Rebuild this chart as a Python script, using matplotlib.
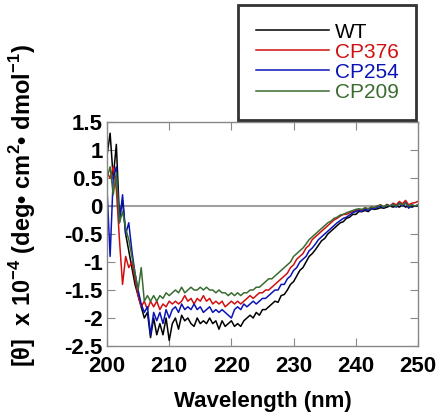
import matplotlib
matplotlib.use("Agg")
import matplotlib.pyplot as plt
import numpy as np

plt.rcParams['font.family'] = ['Liberation Sans', 'DejaVu Sans']
plt.rcParams['mathtext.fontset'] = 'custom'
plt.rcParams['mathtext.rm'] = 'Liberation Sans'
plt.rcParams['mathtext.bf'] = 'Liberation Sans:bold'

# wavelength grid (nm), 0.5 nm steps
wavelength = np.arange(200, 250.01, 0.5)

wt = [0.9, 1.3, 0.5, 1.1, -0.2, 0.1, -0.5, -0.8, -1.1, -1.4,
      -1.6, -1.8, -2.0, -1.9, -2.35, -2.0, -2.3, -2.1, -2.3, -2.0,
      -2.4, -2.1, -2.0, -2.2, -1.95, -2.05, -2.0, -2.1, -2.15, -2.0,
      -2.1, -2.05, -2.1, -2.0, -2.1, -2.05, -2.2, -2.05, -2.15, -2.1,
      -2.05, -2.15, -2.1, -2.15, -2.05, -2.0, -1.95, -2.0, -1.9, -1.95,
      -1.85, -1.85, -1.8, -1.75, -1.7, -1.72, -1.6, -1.58, -1.5, -1.4,
      -1.35, -1.25, -1.15, -1.1, -1.0, -0.9, -0.85, -0.78, -0.7, -0.62,
      -0.58, -0.5, -0.45, -0.4, -0.35, -0.3, -0.28, -0.22, -0.2, -0.15,
      -0.15, -0.1, -0.1, -0.08, -0.1, -0.05, -0.06, -0.05, -0.03, -0.04,
      -0.02, 0.0, -0.02, 0.0, -0.02, 0.02, -0.02, 0.0, -0.02, 0.0, 0.0]

cp376 = [0.6, 0.5, 0.7, 0.3, -0.6, -1.4, -0.9, -1.1, -1.0, -1.3,
         -1.6, -1.8, -1.7, -1.85, -1.7, -1.8, -1.7, -1.85, -1.75, -1.8,
         -1.7, -1.75, -1.7, -1.75, -1.7, -1.6, -1.7, -1.65, -1.75, -1.65,
         -1.7, -1.6, -1.7, -1.65, -1.75, -1.7, -1.75, -1.7, -1.8, -1.75,
         -1.7, -1.75, -1.7, -1.75, -1.7, -1.65, -1.6, -1.65, -1.6, -1.55,
         -1.55, -1.5, -1.5, -1.45, -1.4, -1.35, -1.3, -1.25, -1.2, -1.1,
         -1.05, -0.95, -0.9, -0.85, -0.75, -0.7, -0.6, -0.55, -0.5, -0.45,
         -0.4, -0.35, -0.3, -0.25, -0.22, -0.18, -0.15, -0.15, -0.12, -0.1,
         -0.08, -0.06, -0.08, -0.04, -0.05, -0.02, -0.03, 0.0, 0.02, -0.02,
         0.03, 0.0, 0.05, 0.02, 0.08, 0.04, 0.1, 0.02, 0.05, 0.06, 0.08]

cp254 = [0.3, -0.9, 0.5, 0.7, -0.3, 0.2, -0.5, -0.3, -0.8, -1.2,
         -1.5, -1.75, -1.9, -1.8, -2.3, -1.9, -2.05, -1.9, -2.1, -1.85,
         -2.0, -1.85, -1.8, -1.9, -1.75, -1.85, -1.8, -1.85, -1.75, -1.85,
         -1.8, -1.9, -1.85, -1.8, -1.9, -1.85, -1.9, -1.85, -1.9, -1.95,
         -2.0, -1.85, -1.8, -1.85, -1.75, -1.8, -1.75, -1.7, -1.75, -1.7,
         -1.65, -1.65, -1.6, -1.55, -1.5, -1.5, -1.4, -1.4, -1.3, -1.25,
         -1.15, -1.1, -1.0, -0.95, -0.9, -0.8, -0.75, -0.68, -0.6, -0.55,
         -0.5, -0.45, -0.4, -0.35, -0.3, -0.26, -0.22, -0.2, -0.16, -0.12,
         -0.1, -0.08, -0.1, -0.06, -0.08, -0.04, -0.05, -0.02, 0.0, -0.03,
         0.02, 0.0, 0.03, -0.02, 0.05, 0.0, 0.06, -0.04, 0.02, 0.0, 0.02]

cp209 = [0.5, 0.7, 0.2, 0.6, -0.3, -0.1, -0.4, -0.6, -0.9, -1.2,
         -1.5, -1.1, -1.7, -1.6, -1.7, -1.6, -1.7, -1.6, -1.65, -1.55,
         -1.6, -1.55, -1.5, -1.55, -1.45, -1.55, -1.5, -1.45, -1.5, -1.5,
         -1.45, -1.5, -1.45, -1.5, -1.5, -1.55, -1.5, -1.55, -1.55, -1.6,
         -1.55, -1.6, -1.55, -1.6, -1.55, -1.55, -1.5, -1.5, -1.45, -1.45,
         -1.4, -1.35, -1.3, -1.3, -1.25, -1.2, -1.15, -1.1, -1.05, -1.0,
         -0.9, -0.85, -0.8, -0.75, -0.68, -0.6, -0.55, -0.5, -0.45, -0.4,
         -0.35, -0.3, -0.27, -0.22, -0.2, -0.16, -0.15, -0.12, -0.1, -0.08,
         -0.06, -0.05, -0.06, -0.03, -0.05, -0.02, -0.03, 0.0, 0.02, -0.02,
         0.02, 0.0, 0.03, 0.0, 0.04, 0.02, 0.05, 0.0, 0.02, 0.0, 0.02]

series = [("WT", wt, "#000000"),
          ("CP376", cp376, "#d01010"),
          ("CP254", cp254, "#0a14b4"),
          ("CP209", cp209, "#3a6b30")]

yticks = [-2.5, -2, -1.5, -1, -0.5, 0, 0.5, 1, 1.5]
ytick_labels = ["-2.5", "-2", "-1.5", "-1", "-0.5", "0", "0.5", "1", "1.5"]
xticks = [200, 210, 220, 230, 240, 250]

fig = plt.figure(figsize=(4.43, 4.18), dpi=100)
ax = fig.add_axes([107/443, 1 - 346/418, 311/443, 224/418])

ax.axhline(0, color="#a0a0a0", lw=1.5, zorder=1)
lines = []
for name, vals, col in series:
    l, = ax.plot(wavelength, vals, color=col, lw=1.1, label=name, zorder=2)
    lines.append(l)

ax.set_xlim(200, 250)
ax.set_ylim(-2.5, 1.5)
ax.set_xticks(xticks)
ax.set_yticks(yticks)
ax.set_yticklabels(ytick_labels)
ax.tick_params(direction="in", top=True, right=True, length=6, color="#888888",
               labelsize=16)
ax.tick_params(axis="x", pad=7)
ax.tick_params(axis="y", pad=3)
for lab in ax.get_xticklabels() + ax.get_yticklabels():
    lab.set_fontweight("bold")
for s in ax.spines.values():
    s.set_color("#888888")
    s.set_linewidth(1.0)

ax.set_xlabel("Wavelength (nm)", fontsize=16, fontweight="bold", labelpad=10)
ax.set_ylabel("[θ]  x 10$^{\\mathbf{-4}}$ (deg• cm$^{\\mathbf{2}}$• dmol$^{\\mathbf{-1}}$)",
              fontsize=17, fontweight="bold")
ax.yaxis.set_label_coords(-0.222, 0.625)

leg = fig.legend(handles=lines, loc="upper left", bbox_to_anchor=(238/443, 1 - 5/418),
                 fontsize=15, frameon=True, fancybox=False, edgecolor="black",
                 handlelength=3.5, handletextpad=0.3, labelspacing=0.05,
                 borderpad=0.85, borderaxespad=0)
leg.get_frame().set_linewidth(2)
for txt, (_, _, col) in zip(leg.get_texts(), series):
    txt.set_color(col)

fig.savefig("out.png", dpi=100)
